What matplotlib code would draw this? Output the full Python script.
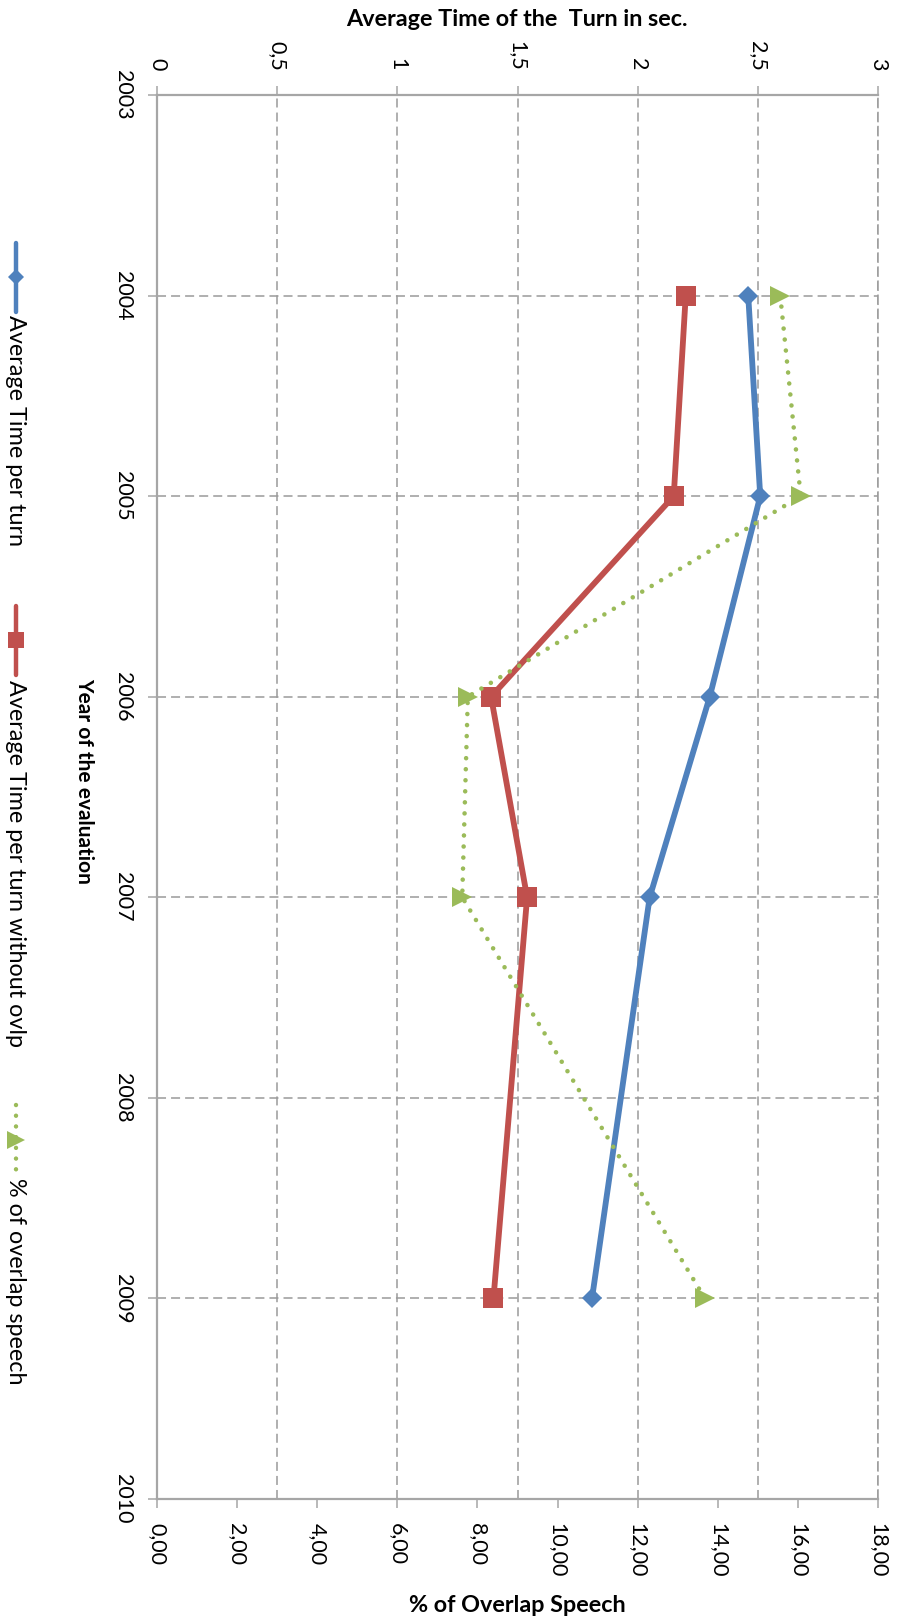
import matplotlib
matplotlib.use("Agg")
import matplotlib.pyplot as plt

plt.rcParams['font.family'] = ['Lato', 'DejaVu Sans']

# --- data -----------------------------------------------------------------
years = [2004, 2005, 2006, 2007, 2009]
avg_time_per_turn = [2.46, 2.51, 2.30, 2.05, 1.81]
avg_time_without_ovlp = [2.20, 2.15, 1.39, 1.54, 1.40]
overlap_speech_pct = [15.56, 16.07, 7.76, 7.62, 13.68]

year_ticks = [2003, 2004, 2005, 2006, 2007, 2008, 2009, 2010]
time_ticks = [0, 0.5, 1, 1.5, 2, 2.5, 3]
time_tick_labels = ["0", "0,5", "1", "1,5", "2", "2,5", "3"]
pct_ticks = [0, 2, 4, 6, 8, 10, 12, 14, 16, 18]
pct_tick_labels = ["0,00", "2,00", "4,00", "6,00", "8,00",
                   "10,00", "12,00", "14,00", "16,00", "18,00"]

series_labels = ["Average Time per turn",
                 "Average Time per turn without ovlp",
                 "% of overlap speech"]
time_axis_title = "Average Time of the  Turn in sec."
pct_axis_title = "% of Overlap Speech"
year_axis_title = "Year of the evaluation"

# --- style ----------------------------------------------------------------
BLUE = "#4F81BD"
RED = "#C0504D"
GREEN = "#9BBB59"
GRID = "#9A9A9A"
AXIS = "#A6A6A6"
DASH = (0, (5.9, 3.3))
DOTS = (0, (0.01, 2.4))
TICK_FS = 15.5
TEXT_FS = 16.8

W, H = 899, 1619
fig = plt.figure(figsize=(W / 100, H / 100), dpi=100)
fig.patch.set_facecolor("white")

left, right, top, bottom = 157, 878, 95, 1499
ax = fig.add_axes([left / W, 1 - bottom / H, (right - left) / W, (bottom - top) / H])
ax2 = ax.twiny()

# primary axis: time in seconds, ticks along the top
ax.set_xlim(0, 3)
ax.set_ylim(2010, 2003)
ax.set_xticks(time_ticks)
ax.set_xticklabels(time_tick_labels, rotation=270)
ax.set_yticks(year_ticks)
ax.set_yticklabels([str(y) for y in year_ticks], rotation=270, va="center")
ax.xaxis.set_ticks_position("top")
ax.tick_params(axis="x", top=True, bottom=False, labeltop=True, labelbottom=False,
               length=6.5, width=1.1, color=AXIS, pad=11, labelsize=TICK_FS)
ax.tick_params(axis="y", left=True, right=False, length=6.5, width=1.1,
               color=AXIS, pad=11, labelsize=TICK_FS)
ax.grid(True, color=GRID, linewidth=1.1, linestyle=DASH)
ax.set_axisbelow(True)
for side in ("top", "bottom", "left"):
    ax.spines[side].set_color(AXIS)
    ax.spines[side].set_linewidth(1.6)
ax.spines["right"].set_color(GRID)
ax.spines["right"].set_linewidth(1.1)
ax.spines["right"].set_linestyle(DASH)

ax.plot(avg_time_per_turn, years, color=BLUE, lw=4.2, marker="D", ms=9.9,
        mew=0, solid_joinstyle="round", solid_capstyle="round", zorder=3)
ax.plot(avg_time_without_ovlp, years, color=RED, lw=4.2, marker="s", ms=14,
        mew=0, solid_joinstyle="round", solid_capstyle="round", zorder=3)

# secondary axis: percentage of overlap speech, ticks along the bottom
ax2.set_xlim(0, 18)
ax2.xaxis.set_ticks_position("bottom")
ax2.set_xticks(pct_ticks)
ax2.set_xticklabels(pct_tick_labels, rotation=270, va="top")
ax2.tick_params(axis="x", bottom=True, top=False, labelbottom=True, labeltop=False,
                length=6.5, width=1.1, color=AXIS, pad=11, labelsize=TICK_FS)
for side in ax2.spines:
    ax2.spines[side].set_visible(False)

ax2.plot(overlap_speech_pct, years, color=GREEN, lw=3.3, linestyle=DOTS,
         dash_capstyle="round", marker=">", ms=15, mew=0, zorder=3)

# --- overlay in pixel coordinates for titles and legend --------------------
ov = fig.add_axes([0, 0, 1, 1])
ov.set_xlim(0, W)
ov.set_ylim(H, 0)
ov.axis("off")
ov.patch.set_visible(False)

ov.text(517, 26, time_axis_title, ha="center", va="baseline",
        fontsize=TEXT_FS, fontweight="bold")
ov.text(517, 1612, pct_axis_title, ha="center", va="baseline",
        fontsize=TEXT_FS, fontweight="bold")
ov.text(84, 781, year_axis_title, rotation=270, ha="center", va="center",
        fontsize=15, fontweight="bold")

legend_x = 16
legend_entries = [
    (BLUE, "-", "D", 7.8, 243, 312, 315),
    (RED, "-", "s", 12.0, 606, 675, 680),
    (GREEN, DOTS, ">", 13.0, 1105, 1175, 1178),
]
for (color, ls, mk, ms, y0, y1, ytext), label in zip(legend_entries, series_labels):
    ov.plot([legend_x, legend_x], [y0, y1], color=color, lw=3.2, linestyle=ls,
            solid_capstyle="round", dash_capstyle="round")
    ov.plot([legend_x], [(y0 + y1) / 2], color=color, marker=mk, ms=ms, mew=0)
    ov.text(legend_x - 1, ytext, label, rotation=270, ha="center", va="top",
            fontsize=TEXT_FS)

fig.savefig("out.png", dpi=100, facecolor="white")
